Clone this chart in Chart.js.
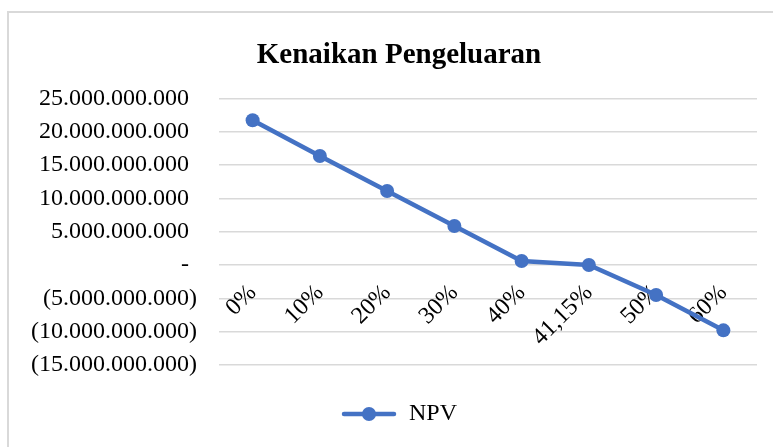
<!DOCTYPE html>
<html><head><meta charset="utf-8">
<script src="https://cdn.jsdelivr.net/npm/chart.js@4/dist/chart.umd.min.js"></script>
<style>
html,body{margin:0;padding:0;background:#fff;overflow:hidden;}
#frame{position:absolute;left:7px;top:11px;width:820px;height:480px;border:2px solid #d9d9d9;box-sizing:border-box;}
#wrap{position:absolute;left:0;top:0;width:773px;height:447px;}
</style></head><body>
<div id="frame"></div>
<div id="wrap"><canvas id="c" width="773" height="447"></canvas></div>
<script>
const chartTitle = 'Kenaikan Pengeluaran';
const seriesName = 'NPV';
const categories = ['0%', '10%', '20%', '30%', '40%', '41,15%', '50%', '60%'];
const npvValues = [21.7e9, 16.35e9, 11.1e9, 5.85e9, 0.6e9, 0, -4.5e9, -9.8e9];
const yTickValues = [25e9, 20e9, 15e9, 10e9, 5e9, 0, -5e9, -10e9, -15e9];

const FONT = "'Liberation Serif', 'Times New Roman', serif";
const BLUE = '#4472C4';
const GRID = '#d9d9d9';

function fmt(v) {
  if (v === 0) return '-\u2004';
  const s = Math.abs(v).toFixed(0).replace(/\B(?=(\d{3})+(?!\d))/g, '.');
  return v < 0 ? '(' + s + ')' : s + '\u2004';
}

// legend marker: line with dot
const mk = document.createElement('canvas');
mk.width = 56; mk.height = 16;
(function(){
  const g = mk.getContext('2d');
  g.strokeStyle = BLUE; g.lineWidth = 4.5; g.lineCap = 'round';
  g.beginPath(); g.moveTo(3, 8); g.lineTo(53, 8); g.stroke();
  g.fillStyle = BLUE; g.beginPath(); g.arc(28, 8, 7, 0, Math.PI * 2); g.fill();
})();

// shift title and legend horizontally to sit centred as in the original frame
const shiftBlocks = {
  id: 'shiftBlocks',
  afterLayout(chart) {
    const d = 16.5;
    [chart.titleBlock, chart.legend].forEach(b => { if (b) { b.left += d; b.right += d; } });
  }
};

new Chart(document.getElementById('c'), {
  type: 'line',
  data: {
    labels: categories,
    datasets: [{
      label: seriesName,
      data: npvValues,
      borderColor: BLUE,
      backgroundColor: BLUE,
      borderWidth: 4.6,
      pointRadius: 7,
      pointHoverRadius: 7,
      pointBackgroundColor: BLUE,
      pointBorderColor: BLUE,
      pointBorderWidth: 0,
      tension: 0,
      clip: false
    }]
  },
  plugins: [shiftBlocks],
  options: {
    responsive: false,
    devicePixelRatio: 1,
    animation: false,
    events: [],
    layout: { padding: { left: 8, right: 16, top: 0, bottom: 11 } },
    scales: {
      x: {
        type: 'category',
        position: { y: 0 },
        offset: true,
        grid: { display: false, drawTicks: false },
        border: { display: false },
        ticks: {
          minRotation: 45, maxRotation: 45, autoSkip: false,
          padding: 14,
          color: '#000',
          font: { family: FONT, size: 24 }
        }
      },
      y: {
        min: Math.min(...yTickValues),
        max: Math.max(...yTickValues),
        afterBuildTicks: (s) => { s.ticks = yTickValues.map(v => ({ value: v })); },
        afterFit: (s) => { s.width = 211; },
        grid: { color: GRID, lineWidth: 1.5, drawTicks: false },
        border: { display: false },
        ticks: {
          padding: 22,
          color: '#000',
          font: { family: FONT, size: 24 },
          callback: (v) => fmt(v)
        }
      }
    },
    plugins: {
      title: {
        display: true,
        text: chartTitle,
        color: '#000',
        font: { family: FONT, size: 29, weight: 'bold' },
        padding: { top: 38, bottom: 25.5 }
      },
      legend: {
        display: true,
        position: 'bottom',
        labels: {
          usePointStyle: true,
          pointStyle: mk,
          pointStyleWidth: 56,
          padding: 37,
          color: '#000',
          font: { family: FONT, size: 24 }
        }
      },
      tooltip: { enabled: false }
    }
  }
});
</script>
</body></html>
